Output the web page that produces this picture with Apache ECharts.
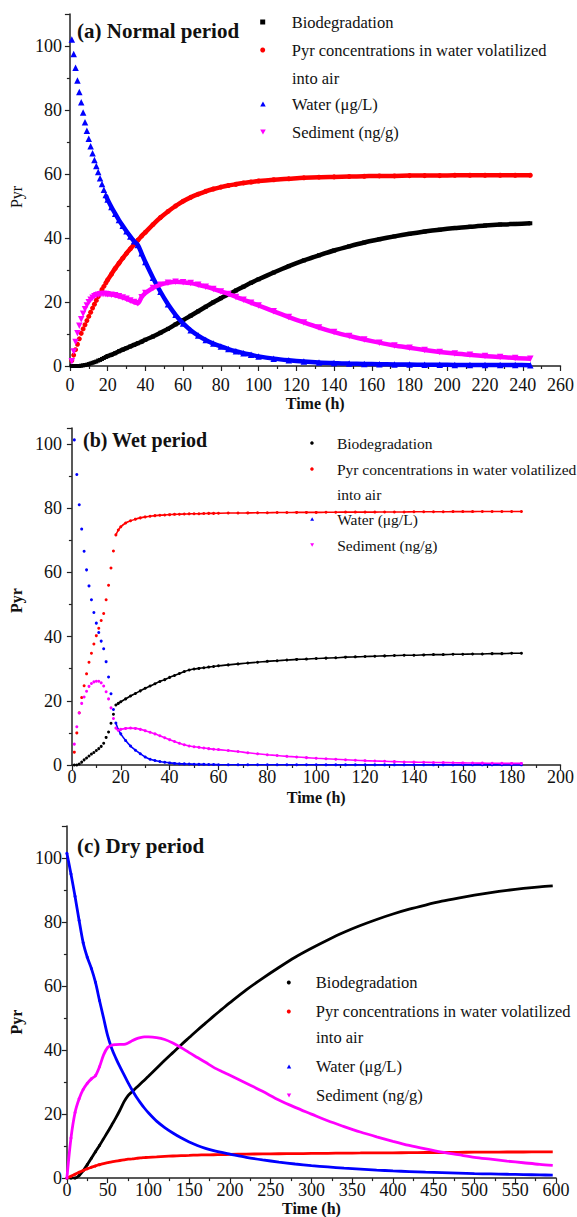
<!DOCTYPE html>
<html><head><meta charset="utf-8">
<script src="https://cdn.jsdelivr.net/npm/echarts@6/dist/echarts.min.js"></script>
<style>html,body{margin:0;padding:0;background:#fff}#c{width:577px;height:1217px}</style>
</head><body><div id="c"></div>
<script>
// ---------- Panel (a) Normal period ----------
const aTime = [1,2,3,4,5,6,7,8,9,10,11,12,13,14,15,16,17,18,19,20,22,24,26,28,30,32,34,36,38,40,44,48,52,56,60,64,68,72,76,80,84,88,92,96,100,108,116,124,132,140,148,156,164,172,180,188,196,204,212,220,228,236,244];
const aBio = [0,0,0,0,0,0.1,0.2,0.3,0.4,0.6,0.8,1.0,1.2,1.4,1.7,1.9,2.2,2.5,2.8,3.1,3.5,4.0,4.6,5.1,5.6,6.1,6.6,7.1,7.6,8.2,9.2,10.4,11.6,13.0,14.3,15.7,17.1,18.5,19.9,21.2,22.4,23.6,24.8,26.0,27.1,29.2,31.2,33.0,34.6,36.1,37.4,38.6,39.6,40.5,41.3,42.0,42.6,43.1,43.5,43.9,44.2,44.4,44.6];
const aVol = [1.7,3.4,5.1,6.8,8.5,10.2,11.6,12.9,14.2,15.5,16.8,18.1,19.3,20.5,21.7,22.8,23.9,24.9,25.9,26.9,28.7,30.5,32.1,33.7,35.2,36.6,38.0,39.3,40.6,41.8,44.2,46.4,48.3,50.0,51.5,52.7,53.7,54.6,55.3,55.9,56.4,56.8,57.2,57.5,57.8,58.2,58.5,58.8,59.0,59.1,59.2,59.3,59.4,59.4,59.5,59.5,59.5,59.6,59.6,59.6,59.6,59.6,59.6];
const aWater = [102,97.5,93.2,89.2,85.6,82.4,79.2,76.2,73.5,71.0,68.7,66.5,64.4,62.5,60.6,58.7,56.9,55.1,53.4,52.0,49.7,47.6,45.6,43.8,42.1,40.5,39.0,37.8,35.2,32.5,27.6,23.2,19.3,16.0,13.3,11.2,9.5,8.1,7.0,6.1,5.3,4.6,4.0,3.5,3.0,2.3,1.8,1.4,1.1,0.9,0.75,0.65,0.55,0.5,0.45,0.4,0.38,0.35,0.33,0.3,0.3,0.28,0.27];
const aSed = [1.5,4.5,7.5,10.2,12.6,14.6,16.3,17.7,18.9,19.9,20.7,21.3,21.8,22.1,22.3,22.4,22.5,22.5,22.5,22.4,22.3,22.1,21.8,21.4,21.0,20.5,20.0,19.6,21.5,22.8,24.4,25.4,26.0,26.3,26.2,25.9,25.4,24.8,24.1,23.3,22.5,21.6,20.7,19.8,18.9,17.1,15.3,13.6,12.0,10.6,9.4,8.3,7.3,6.4,5.7,5.0,4.4,3.9,3.5,3.1,2.8,2.5,2.3];

// ---------- Panel (b) Wet period ----------
const bTime = [1,2,3,4,5,6,7,8,9,10,11,12,13,14,15,16,17,18,19,20,22,24,26,28,30,32,34,36,38,40,42,44,46,48,50,52,54,56,58,60,64,68,72,76,80,84,88,92,96,100,104,108,112,116,120,124,128,132,136,140,144,148,152,156,160,164,168,172,176,180,184];
const bBio = [0,0,0.3,0.9,1.6,2.2,2.8,3.4,3.9,4.5,5.1,5.8,6.8,8.6,10.3,13.0,15.8,18.7,19.2,19.7,20.6,21.5,22.3,23.1,23.9,24.6,25.3,26.0,26.6,27.3,27.9,28.5,29.1,29.6,29.9,30.1,30.3,30.5,30.7,30.9,31.2,31.5,31.8,32.0,32.3,32.5,32.7,32.9,33.0,33.2,33.3,33.4,33.6,33.7,33.8,33.9,34.0,34.1,34.2,34.2,34.3,34.4,34.4,34.5,34.5,34.6,34.6,34.7,34.7,34.8,34.8];
const bVol = [4,10,16.3,21,24.7,28.4,32,34.8,37.7,40.3,42.6,45,47.2,51.5,56,61.4,66.7,71.7,73.2,74.2,75.4,76.1,76.6,77.0,77.3,77.5,77.7,77.8,77.9,78.0,78.1,78.15,78.2,78.25,78.3,78.3,78.35,78.4,78.4,78.45,78.5,78.5,78.55,78.6,78.6,78.65,78.65,78.7,78.7,78.7,78.75,78.75,78.8,78.8,78.8,78.8,78.85,78.85,78.85,78.9,78.9,78.9,78.9,78.95,78.95,78.95,79.0,79.0,79.0,79.0,79.0];
const bWater = [101.3,90.5,81.1,73.5,66.6,60.8,55.8,51.5,47.5,44.2,41.3,38.6,36.2,32.2,27.4,22.2,17.3,13.1,11.0,9.7,7.6,5.9,4.6,3.5,2.5,1.8,1.4,1.1,0.85,0.65,0.5,0.4,0.35,0.3,0.25,0.2,0.2,0.15,0.15,0.1,0.1,0.1,0.1,0.1,0.1,0.1,0.1,0.1,0.1,0.1,0.05,0.05,0.05,0.05,0.05,0.05,0.05,0.05,0.05,0.05,0.05,0.05,0.05,0.05,0.05,0.05,0.05,0.05,0.05,0.05,0.05];
const bSed = [6.5,11.9,16.2,19.2,21.2,23.0,24.5,25.4,25.9,26.1,26.1,25.6,24.6,22.8,20.6,17.8,14.5,11.5,10.8,11.1,11.4,11.5,11.4,11.1,10.7,10.2,9.7,9.1,8.5,7.9,7.3,6.8,6.3,5.9,5.7,5.5,5.3,5.1,4.9,4.8,4.5,4.2,3.8,3.5,3.2,2.95,2.7,2.5,2.3,2.1,1.95,1.8,1.65,1.5,1.35,1.25,1.15,1.05,0.95,0.9,0.85,0.8,0.75,0.7,0.65,0.6,0.58,0.55,0.52,0.5,0.5];

// ---------- Panel (c) Dry period ----------
const cTime = [0,5,10,15,20,25,30,35,40,45,50,55,60,65,70,75,80,85,90,95,100,110,120,130,140,150,160,170,180,190,200,220,240,260,280,300,320,340,360,380,400,420,440,460,480,500,520,540,560,580,596];
const cBio = [0,0,0,0.8,2.3,4.2,6.2,8.2,10.2,12.3,14.4,16.6,18.8,21.2,23.8,25.8,27.0,28.2,29.4,30.6,31.8,34.3,36.8,39.2,41.6,43.9,46.2,48.4,50.6,52.7,54.8,58.8,62.4,65.8,69.0,71.8,74.4,76.8,78.9,80.8,82.5,84.0,85.3,86.5,87.5,88.4,89.2,89.9,90.5,91.0,91.3];
const cVol = [0,0.6,1.2,1.8,2.4,2.9,3.4,3.8,4.2,4.5,4.8,5.1,5.3,5.5,5.7,5.9,6.0,6.15,6.3,6.4,6.5,6.65,6.8,6.9,7.0,7.1,7.2,7.25,7.3,7.35,7.4,7.5,7.55,7.6,7.65,7.7,7.75,7.8,7.85,7.9,7.9,7.95,8.0,8.0,8.05,8.1,8.1,8.15,8.15,8.2,8.2];
const cWater = [101.5,95,88,80.5,73.5,69,65.5,61.2,55.5,50,44.5,40.5,37.5,34.8,32.3,29.8,27.5,25.4,23.6,21.9,20.4,17.8,15.8,14.1,12.6,11.3,10.2,9.3,8.6,8.0,7.5,6.5,5.7,5.0,4.4,3.9,3.5,3.1,2.8,2.5,2.25,2.05,1.85,1.7,1.55,1.4,1.3,1.2,1.1,1.0,0.95];
const cSed = [0,12.5,20.5,24.8,27.7,29.6,31.0,32.0,34.8,38.5,40.8,41.5,41.7,41.8,41.8,42.2,42.9,43.5,43.9,44.1,44.1,43.9,43.3,42.2,40.8,39.2,37.7,36.2,34.6,33.3,32.1,29.6,27.1,24.4,22.1,20.0,17.9,16.1,14.4,12.9,11.5,10.2,9.1,8.1,7.3,6.5,5.9,5.3,4.8,4.3,4.0];

const names = ['Biodegradation', 'Pyr concentrations in water volatilized into air', 'Water (\u03bcg/L)', 'Sediment (ng/g)'];
const colors = ['#000000', '#ff0000', '#0000ff', '#ff00ff'];

const F = '"Liberation Serif", "Times New Roman", serif';
const TRI = 'path://M5,0L10,9L0,9Z';
const ITRI = 'path://M0,0L10,0L5,9Z';
const SQ = 'path://M0,0H10V10H0Z';

function pairs(t, v, from, to) {
  const out = [];
  for (let i = 0; i < t.length; i++) if (t[i] >= from && t[i] <= to) out.push([t[i], v[i]]);
  return out;
}

const series = [];
function addPanel(gi, t, vals, symbols, sizes, lineFrom, lineW, scatterTo) {
  vals.forEach((v, k) => {
    series.push({
      name: names[k], type: 'line', xAxisIndex: gi, yAxisIndex: gi,
      data: pairs(t, v, lineFrom, 1e9), showSymbol: false, smooth: 0.3,
      lineStyle: { color: colors[k], width: lineW }, itemStyle: { color: colors[k] },
      silent: true, z: 2 + k
    });
    series.push({
      name: names[k], type: 'scatter', xAxisIndex: gi, yAxisIndex: gi,
      data: pairs(t, v, -1, scatterTo), symbol: symbols[k], symbolSize: sizes[k],
      itemStyle: { color: colors[k], opacity: 1 }, silent: true, z: 2 + k
    });
  });
}
addPanel(0, aTime, [aBio, aVol, aWater, aSed], [SQ, 'circle', TRI, ITRI], [4, 5, 6.5, 6.5], 19, 4.5, 1e9);
addPanel(1, bTime, [bBio, bVol, bWater, bSed], ['circle', 'circle', 'circle', 'circle'], [3, 3, 3, 3], 18, 1.6, 1e9);
addPanel(2, cTime, [cBio, cVol, cWater, cSed], ['circle', 'circle', 'circle', 'circle'], [3, 3, 3, 3], 0, 2.8, 40);

function xAx(gi, max, interval, lm, ng, bold) {
  return {
    gridIndex: gi, type: 'value', min: 0, max: max, interval: interval,
    axisLine: { onZero: false, lineStyle: { color: '#222', width: 1.5 } },
    axisTick: { length: 5, lineStyle: { color: '#222', width: 1.2 } },
    minorTick: { show: true, splitNumber: 2, length: 3, lineStyle: { color: '#222', width: 1.2 } },
    splitLine: { show: false },
    axisLabel: { fontFamily: F, fontSize: 18, color: '#111', margin: lm },
    name: 'Time (h)', nameLocation: 'middle', nameGap: ng,
    nameTextStyle: { fontFamily: F, fontSize: 16, fontWeight: bold ? 'bold' : 'normal', color: '#111' }
  };
}
function yAx(gi, max, lm, ng, bold, shiftDown) {
  return {
    gridIndex: gi, type: 'value', min: 0, max: max, interval: 20,
    axisLine: { show: true, onZero: false, lineStyle: { color: '#222', width: 1.5 } },
    axisTick: { show: true, length: 5, lineStyle: { color: '#222', width: 1.2 } },
    minorTick: { show: true, splitNumber: 2, length: 3, lineStyle: { color: '#222', width: 1.2 } },
    splitLine: { show: false },
    axisLabel: { fontFamily: F, fontSize: 18, color: '#111', margin: lm, showMaxLabel: false },
    name: 'Pyr', nameLocation: 'middle', nameGap: ng, nameRotate: 90,
    nameTextStyle: { fontFamily: F, fontSize: 16, fontWeight: bold ? 'bold' : 'normal', color: '#111',
      padding: [0, shiftDown * 2, 0, 0] }
  };
}

function legendPair(left, topA, topB, iw, ih, lh, fs, icons) {
  const ts = { fontFamily: F, fontSize: fs, color: '#111', lineHeight: lh };
  return [
    { orient: 'vertical', left: left, top: topA, padding: 0, itemGap: 0, itemWidth: iw, itemHeight: ih,
      textStyle: ts, selectedMode: false,
      formatter: n => n.replace(' into air', ''),
      data: [{ name: names[0], icon: icons[0] }, { name: names[1], icon: icons[1] }] },
    { orient: 'vertical', left: left, top: topB, padding: 0, itemGap: 0, itemWidth: iw, itemHeight: ih,
      textStyle: ts, selectedMode: false,
      data: [{ name: names[2], icon: icons[2] }, { name: names[3], icon: icons[3] }] }
  ];
}

const tA = { fontFamily: F, fontSize: 21, fontWeight: 'bold', color: '#111' };
const tB = { fontFamily: F, fontSize: 20, fontWeight: 'bold', color: '#111' };
const option = {
  animation: false,
  backgroundColor: '#fff',
  title: [
    { text: '(a) Normal period', left: 77, top: 20, padding: 0, textStyle: tA },
    { text: '(b) Wet period', left: 83, top: 430, padding: 0, textStyle: tB },
    { text: '(c) Dry period', left: 77, top: 835, padding: 0, textStyle: tA }
  ],
  grid: [
    { left: 61, top: 14, width: 503, height: 352 },
    { left: 63.5, top: 428, width: 506.5, height: 337 },
    { left: 57, top: 826, width: 499, height: 354 }
  ],
  xAxis: [xAx(0, 260, 20, 10, 29, true), xAx(1, 200, 20, 3, 24, true), xAx(2, 600, 50, 3, 20, true)],
  yAxis: [yAx(0, 110, 8, 33, false, 7), yAx(1, 105, 10, 33, true, 4), yAx(2, 110, 5, 30, true, 20)],
  legend: [].concat(
    legendPair(260.2, 8, 90, 48, 5, 28, 16.5, [SQ, 'circle', TRI, ITRI]),
    legendPair(310.2, 430, 506, 40, 3.5, 26, 15.5, ['circle', 'circle', TRI, ITRI]),
    legendPair(286.8, 968, 1052, 44, 4, 29, 16.5, ['circle', 'circle', TRI, ITRI])
  ),
  graphic: [
    { type: 'text', left: 292, top: 70, style: { text: 'into air', font: '16.5px ' + F, fill: '#111' } },
    { type: 'text', left: 337, top: 486, style: { text: 'into air', font: '15.5px ' + F, fill: '#111' } },
    { type: 'text', left: 316, top: 1029, style: { text: 'into air', font: '16.5px ' + F, fill: '#111' } }
  ],
  series: series
};
const chart = echarts.init(document.getElementById('c'), null, { renderer: 'svg' });
chart.setOption(option);
</script>
</body></html>
